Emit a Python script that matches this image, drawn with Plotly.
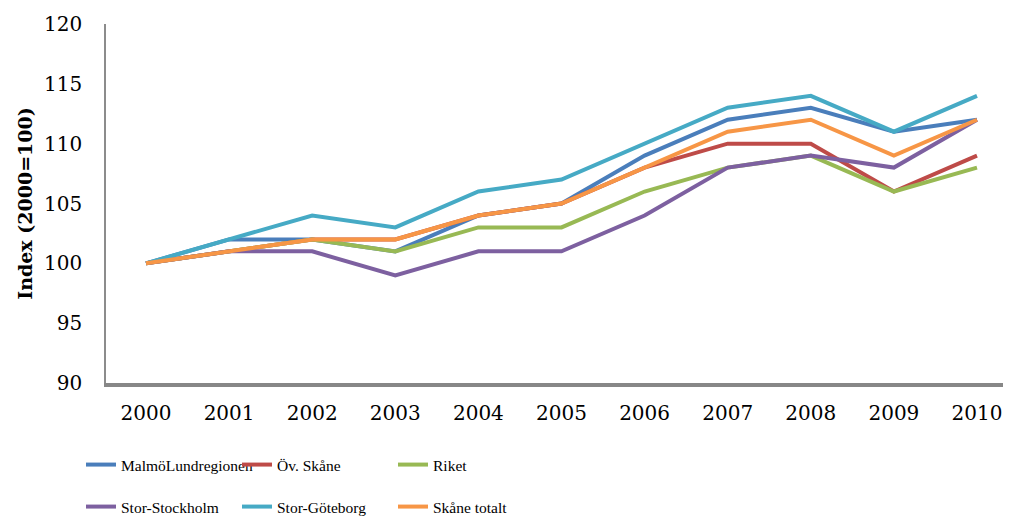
import plotly.graph_objects as go

years = [2000, 2001, 2002, 2003, 2004, 2005, 2006, 2007, 2008, 2009, 2010]
malmo_lund = [100, 102, 102, 101, 104, 105, 109, 112, 113, 111, 112]
ov_skane = [100, 101, 102, 102, 104, 105, 108, 110, 110, 106, 109]
riket = [100, 101, 102, 101, 103, 103, 106, 108, 109, 106, 108]
stor_stockholm = [100, 101, 101, 99, 101, 101, 104, 108, 109, 108, 112]
stor_goteborg = [100, 102, 104, 103, 106, 107, 110, 113, 114, 111, 114]
skane_totalt = [100, 101, 102, 102, 104, 105, 108, 111, 112, 109, 112]

series = [
    ("MalmöLundregionen", malmo_lund, "#4A7EBB", "legend"),
    ("Öv. Skåne", ov_skane, "#BE4B48", "legend"),
    ("Riket", riket, "#98B954", "legend"),
    ("Stor-Stockholm", stor_stockholm, "#7D60A0", "legend2"),
    ("Stor-Göteborg", stor_goteborg, "#46AAC5", "legend2"),
    ("Skåne totalt", skane_totalt, "#F79646", "legend2"),
]

fig = go.Figure()
for name, vals, color, leg in series:
    fig.add_trace(go.Scatter(
        x=years, y=vals, name=name, mode="lines",
        line=dict(color=color, width=4),
        legend=leg,
    ))

# page body has an 8px default margin, so the figure is offset by 8px
OFF = 8
W, H = 1011 - OFF, 517 - OFF
ml, mr, mt, mb = 106 - OFF, 0, 24 - OFF, 517 - 383
step = 83.1
x0 = 2000 - 40 / step
x1 = x0 + (W - ml - mr) / step

legend_common = dict(
    orientation="h",
    xref="container", yref="container",
    xanchor="left", yanchor="middle",
    font=dict(family="Liberation Serif", size=15.5, color="#000000"),
    entrywidth=111, entrywidthmode="pixels",
    itemwidth=30,
    bgcolor="rgba(0,0,0,0)",
    tracegroupgap=0,
)

fig.update_layout(
    width=W, height=H,
    margin=dict(l=ml, r=mr, t=mt, b=mb, autoexpand=False),
    paper_bgcolor="white", plot_bgcolor="white",
    showlegend=True,
    legend=dict(legend_common, x=(81 - OFF) / W, y=1 - (465 - OFF) / H),
    legend2=dict(legend_common, x=(81 - OFF) / W, y=1 - (507 - OFF) / H),
    xaxis=dict(
        range=[x0, x1],
        tickmode="array", tickvals=years, ticktext=[str(y) for y in years],
        showgrid=False, zeroline=False,
        showline=True, linecolor="#878787", linewidth=4,
        ticks="", ticklabelstandoff=9,
        tickfont=dict(family="DejaVu Serif", size=20, color="#000000"),
    ),
    yaxis=dict(
        range=[90, 120], tickmode="array",
        tickvals=[90, 95, 100, 105, 110, 115, 120],
        showgrid=False, zeroline=False,
        showline=True, linecolor="#8C8C8C", linewidth=1.5,
        ticks="", ticklabelstandoff=18,
        tickfont=dict(family="DejaVu Serif", size=20, color="#000000"),
        title=dict(text="<b>Index (2000=100)</b>", standoff=6,
                   font=dict(family="DejaVu Serif", size=19, color="#000000")),
    ),
)

fig.write_html("out.html")
